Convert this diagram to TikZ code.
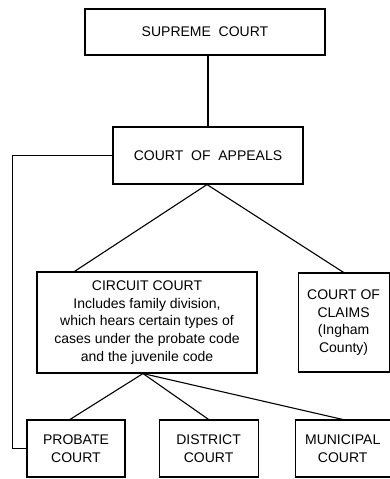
\documentclass[tikz,border=0pt]{standalone}
\usepackage{fontspec}
\setmainfont{Liberation Sans}
\usetikzlibrary{positioning}

\begin{document}
\begin{tikzpicture}[x=1pt, y=-1pt, Ct/.style={draw, line width=1.1pt,
  align=center, inner sep=0pt, font=\fontsize{14}{17.75}\selectfont},
  Cl/.style={line width=1.1pt}]
\useasboundingbox (0,0) rectangle (389,479);
\node[Ct, minimum width=240pt, minimum height=46pt] at (205,32) (sup) {SUPREME\ \ COURT};
\node[Ct, minimum width=190pt, minimum height=57pt] at (208,155.5) (app) {COURT\ \ OF\ \ APPEALS};
\node[Ct, minimum width=220pt, minimum height=101pt] at (147,322.5) (circ) {CIRCUIT COURT\\
  Includes family division,\\ which hears certain types of\\
  cases under the probate code\\ and the juvenile code};
\node[Ct, minimum width=91pt, minimum height=99pt, right=40pt of circ] (clm) {COURT OF\\ CLAIMS\\ (Ingham\\ County)};
\node[Ct, minimum width=98pt, minimum height=57pt] at (76,448.5) (prob) {PROBATE\\ COURT};
\node[Ct, minimum width=99pt, minimum height=57pt, right=33pt of prob] (dist) {DISTRICT\\ COURT};
\node[Ct, minimum width=95pt, minimum height=57pt, right=36pt of dist] (muni) {MUNICIPAL\\ COURT};

\draw[Cl] (app.north) -- (app.north |- sup.south);
\draw[Cl] ([xshift=-1pt]app.south) -- ([xshift=38pt]circ.north west);
\draw[Cl] ([xshift=-1pt]app.south) -- (clm.north);
\draw[Cl] ([xshift=-4pt]circ.south) -- ([xshift=-6pt]prob.north);
\draw[Cl] ([xshift=-4pt]circ.south) -- (dist.north);
\draw[Cl] ([xshift=-4pt]circ.south) -- (muni.north);
\draw[Cl] (app.west) -- ++(-100,0) |- (prob.west);

\end{tikzpicture}
\end{document}
